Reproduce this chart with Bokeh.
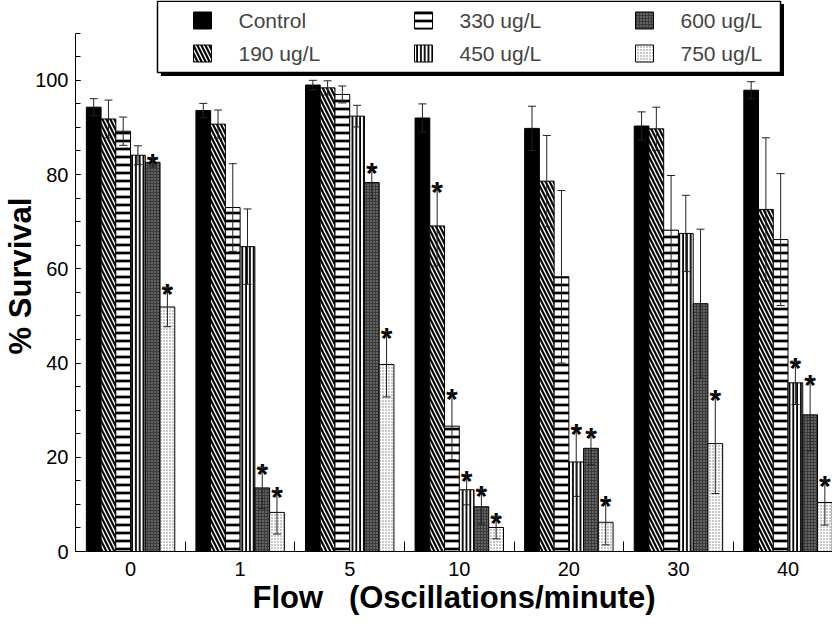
from bokeh.plotting import figure
from bokeh.models import (ColumnDataSource, Range1d, FixedTicker, Whisker, TeeHead,
                          BoxAnnotation, Label)
from bokeh.core.properties import value
from bokeh.embed import file_html
from bokeh.resources import INLINE

# ---------------- data ----------------
flows = ["0", "1", "5", "10", "20", "30", "40"]
series_names = ["Control", "190 ug/L", "330 ug/L", "450 ug/L", "600 ug/L", "750 ug/L"]

control     = [94.3, 93.6, 99.0, 92.0, 89.8, 90.3, 97.9]
control_err = [1.8, 1.5, 1.0, 3.0, 4.7, 3.0, 1.8]
c190        = [91.8, 90.7, 98.4, 69.1, 78.6, 89.7, 72.6]
c190_err    = [4.0, 3.0, 1.5, 8.5, 9.7, 4.6, 15.2]
c330        = [89.2, 73.0, 97.0, 26.6, 58.3, 68.2, 66.2]
c330_err    = [3.0, 9.3, 1.8, 7.1, 18.3, 11.6, 14.0]
c450        = [84.1, 64.7, 92.4, 13.1, 19.0, 67.5, 35.8]
c450_err    = [2.0, 8.0, 2.3, 3.2, 7.3, 8.1, 4.6]
c600        = [82.6, 13.5, 78.3, 9.5, 21.9, 52.6, 29.0]
c600_err    = [1.0, 4.4, 3.4, 3.7, 3.5, 15.8, 7.7]
c750        = [51.9, 8.3, 39.7, 5.1, 6.2, 22.9, 10.4]
c750_err    = [4.2, 4.6, 6.9, 2.4, 4.8, 10.6, 4.8]

star_control = [False, False, False, False, False, False, False]
star_190     = [False, False, False, True, False, False, False]
star_330     = [False, False, False, True, False, False, False]
star_450     = [False, False, False, True, True, False, True]
star_600     = [True, True, True, True, True, False, True]
star_750     = [True, True, True, True, True, True, True]

y_major = [0, 20, 40, 60, 80, 100]
y_minor = list(range(0, 111, 5))

x_title = "Flow\u00a0\u00a0\u00a0(Oscillations/minute)"
y_title = "% Survival"

values = [control, c190, c330, c450, c600, c750]
errors = [control_err, c190_err, c330_err, c450_err, c600_err, c750_err]
stars = [star_control, star_190, star_330, star_450, star_600, star_750]

# ---------------- styles ----------------
FONT = "Liberation Sans"
styles = [
    dict(fill_color="black", hatch_pattern=None),
    dict(fill_color="white", hatch_pattern="\\", hatch_color="black", hatch_scale=8, hatch_weight=2.2),
    dict(fill_color="white", hatch_pattern="-", hatch_color="black", hatch_scale=8, hatch_weight=2.7),
    dict(fill_color="white", hatch_pattern="|", hatch_color="black", hatch_scale=3.8, hatch_weight=1.8),
    dict(fill_color="#3a3a3a", hatch_pattern=".", hatch_color="#a0a0a0", hatch_scale=3, hatch_weight=1.0),
    dict(fill_color="white", hatch_pattern=".", hatch_color="#777777", hatch_scale=3, hatch_weight=0.8),
]

W, H = 832, 620
LEFT, BOTTOM = 69, 69
FRAME_H = H - BOTTOM
AXIS_TOP = 110
PX_PER_UNIT = (FRAME_H - 32.7) / AXIS_TOP
Y_TOP = FRAME_H / PX_PER_UNIT
BW = 0.1345

p = figure(width=W, height=H, x_range=Range1d(-0.5025, 6.406), y_range=Range1d(0, Y_TOP),
           output_backend="svg", toolbar_location=None,
           min_border_left=LEFT, min_border_right=0, min_border_top=0, min_border_bottom=BOTTOM)
p.grid.visible = False
p.outline_line_color = None
p.background_fill_color = "white"
p.border_fill_color = "white"

for j, (vals, errs, st, sty) in enumerate(zip(values, errors, stars, styles)):
    xs = [i + (j - 2.5) * BW for i in range(len(flows))]
    src = ColumnDataSource(dict(x=xs, top=vals,
                                upper=[v + e for v, e in zip(vals, errs)],
                                lower=[v - e for v, e in zip(vals, errs)]))
    p.vbar(x="x", top="top", bottom=0, width=BW, source=src,
           line_color="black", line_width=1, **sty)
    p.add_layout(Whisker(base="x", upper="upper", lower="lower", source=src,
                         line_color="#222222", line_width=1, level="overlay",
                         upper_head=TeeHead(size=8, line_color="#222222", line_width=1),
                         lower_head=TeeHead(size=8, line_color="#222222", line_width=1)))
    sx = [x for x, s in zip(xs, st) if s]
    sy = [v + e for v, e, s in zip(vals, errs, st) if s]
    if sx:
        p.text(x=sx, y=sy, text=["*"] * len(sx), text_font=value(FONT),
               text_font_style="bold", text_font_size="30px", text_color="black",
               text_align="center", text_baseline="alphabetic", y_offset=6)

# ---------------- axes ----------------
xa = p.xaxis[0]
xa.ticker = FixedTicker(ticks=list(range(len(flows))),
                        minor_ticks=[i + 0.5 for i in range(len(flows) - 1)])
xa.major_label_overrides = {i: f for i, f in enumerate(flows)}
xa.major_tick_in = 0
xa.major_tick_out = 0
xa.minor_tick_in = 10
xa.minor_tick_out = 0
xa.major_label_standoff = 10
xa.major_label_text_font = FONT
xa.major_label_text_font_size = "20px"
xa.major_label_text_color = "black"
xa.axis_line_color = "black"
xa.minor_tick_line_color = "black"
xa.axis_label = x_title
xa.axis_label_standoff = 1
xa.axis_label_text_font = FONT
xa.axis_label_text_font_style = "bold"
xa.axis_label_text_font_size = "31px"
xa.axis_label_text_color = "black"

ya = p.yaxis[0]
ya.ticker = FixedTicker(ticks=y_major, minor_ticks=y_minor)
ya.bounds = (0, AXIS_TOP)
ya.major_tick_in = 5
ya.major_tick_out = 0
ya.minor_tick_in = 5
ya.minor_tick_out = 0
ya.major_label_standoff = 7
ya.major_label_text_font = FONT
ya.major_label_text_font_size = "20px"
ya.major_label_text_color = "black"
ya.axis_line_color = "black"
ya.major_tick_line_color = "black"
ya.minor_tick_line_color = "black"
ya.axis_label = y_title
ya.axis_label_standoff = -6
ya.axis_label_text_font = FONT
ya.axis_label_text_font_style = "bold"
ya.axis_label_text_font_size = "31px"
ya.axis_label_text_color = "black"

def sxp(fx):
    return fx - LEFT

def syp(fy):
    return FRAME_H - fy

# ---------------- legend ----------------
def box(l, r, t, b, **kw):
    return BoxAnnotation(left=sxp(l), right=sxp(r), top=syp(t), bottom=syp(b),
                         left_units="screen", right_units="screen",
                         top_units="screen", bottom_units="screen", **kw)

p.add_layout(box(154.5, 777.5, 3.5, 75.5, fill_color="black", fill_alpha=1, line_alpha=0))
p.add_layout(box(151, 774, 0.8, 72, fill_color="white", fill_alpha=1,
                 line_color="black", line_alpha=1, line_width=1.5))

col_x = [187, 408, 629]
row_y = [20, 53]
for k, (name, sty) in enumerate(zip(series_names, styles)):
    cx = col_x[k // 2]
    cy = row_y[k % 2]
    hatch = {kk: vv for kk, vv in sty.items() if kk.startswith("hatch")}
    if hatch.get("hatch_pattern") is None:
        hatch = {}
    else:
        hatch["hatch_alpha"] = 1
    p.add_layout(box(cx, cx + 18, cy - 8.5, cy + 8.5, fill_color=sty["fill_color"], fill_alpha=1,
                     line_color="black", line_alpha=1, line_width=1, **hatch))
    p.add_layout(Label(x=sxp(cx + 45), y=syp(cy), x_units="screen", y_units="screen",
                       text=name, text_font=FONT, text_font_size="21px",
                       text_align="left", text_baseline="middle"))

open("out.html", "w").write(file_html(p, INLINE))
